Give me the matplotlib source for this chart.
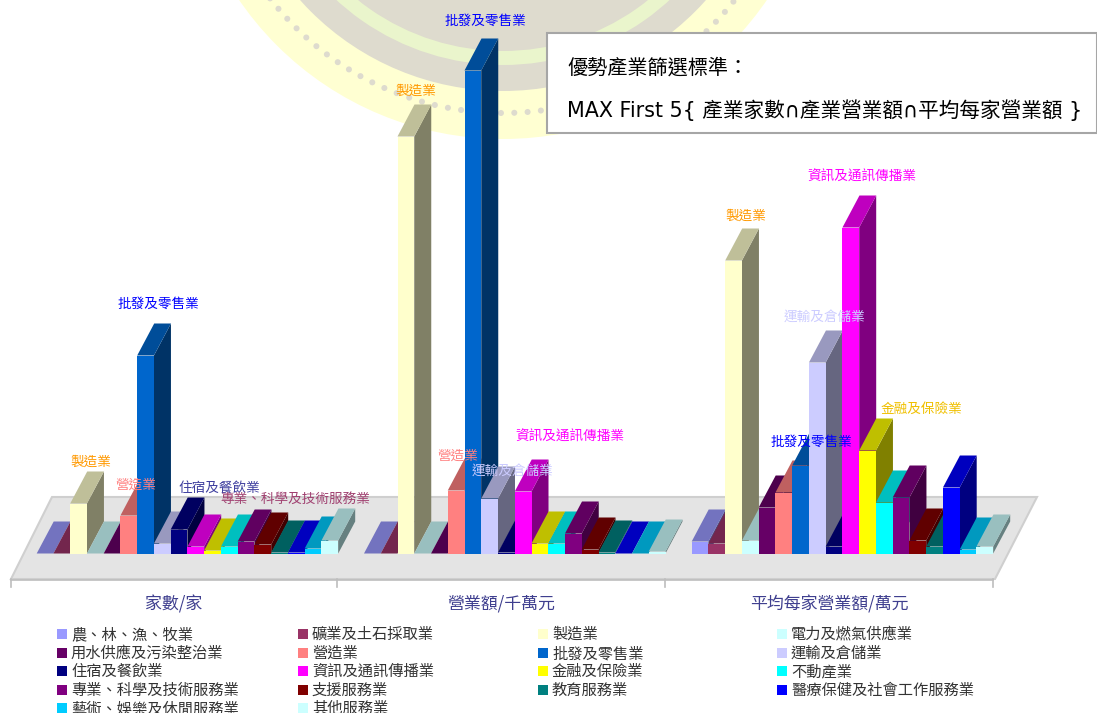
import matplotlib
matplotlib.use("Agg")
import matplotlib.pyplot as plt
import numpy as np
from matplotlib.patches import Polygon, Circle, Rectangle, Wedge
from matplotlib.colors import to_rgb

plt.rcParams['font.family'] = ['Noto Sans CJK TC', 'DejaVu Sans']

groups = ['家數/家', '營業額/千萬元', '平均每家營業額/萬元']
industries = ['農、林、漁、牧業', '礦業及土石採取業', '製造業', '電力及燃氣供應業',
              '用水供應及污染整治業', '營造業', '批發及零售業', '運輸及倉儲業',
              '住宿及餐飲業', '資訊及通訊傳播業', '金融及保險業', '不動產業',
              '專業、科學及技術服務業', '支援服務業', '教育服務業', '醫療保健及社會工作服務業',
              '藝術、娛樂及休閒服務業', '其他服務業']
colors = ['#9999FF', '#993366', '#FFFFCC', '#CCFFFF', '#660066', '#FF8080', '#0066CC', '#CCCCFF',
          '#000080', '#FF00FF', '#FFFF00', '#00FFFF', '#800080', '#800000', '#008080', '#0000FF',
          '#00CCFF', '#CCFFFF']
# values in chart units
households = [0, 0, 50, 0, 0, 38, 198, 10, 24, 7, 3, 7, 12, 9, 1, 1, 5, 13]
revenue = [0, 0, 417, 0, 0, 63, 483, 55, 1, 62, 10, 10, 20, 4, 1, 0, 0, 2]
average = [12, 10, 293, 13, 46, 61, 88, 191, 7, 326, 103, 51, 56, 13, 7, 66, 4, 7]
series = [households, revenue, average]
group_starts = [36.7, 364.0, 691.7]
group_ticks = [11, 337, 665, 993]
# (group index, industry index, label x, label y, colour)
labels = [
    (0, 2, 91, 462, '#FF9900'), (0, 5, 136, 485, '#FF8080'), (0, 6, 158, 304, '#0000FF'),
    (0, 8, 219, 489, '#3F3F9F'), (0, 12, 295, 499, '#A04070'),
    (1, 2, 416, 91, '#FF9900'), (1, 5, 458, 456, '#FF8080'), (1, 6, 485, 21, '#0000FF'),
    (1, 7, 512, 472, '#CCCCFF'), (1, 9, 570, 437, '#FF00FF'),
    (2, 2, 746, 216, '#FF9900'), (2, 6, 811, 442, '#0000FF'), (2, 7, 824, 318, '#CCCCFF'),
    (2, 9, 862, 177, '#FF00FF'), (2, 10, 921, 409, '#F0C000'),
]

W, H = 1097, 713
BASE = 553.5
BAR_W = 16.75
DX, DY = 17, 32


def shade(c, f):
    r, g, b = to_rgb(c)
    return (r * f, g * f, b * f)


fig = plt.figure(figsize=(W / 100, H / 100), dpi=100)
ax = fig.add_axes([0, 0, 1, 1])
ax.set_xlim(0, W)
ax.set_ylim(H, 0)
ax.axis('off')

# faint emblem behind the chart
cx, cy = 503, -181
ax.add_patch(Circle((cx, cy), 320, fc='#FFFFD2', ec='none', zorder=1))
ax.add_patch(Circle((cx, cy), 272, fc='#DEDBCE', ec='none', zorder=1.1))
ax.add_patch(Wedge((cx, cy), 246, 20, 160, width=14, fc='#EAF5CC', ec='none', zorder=1.2))
ax.add_patch(Circle((cx, cy), 205, fc='#DEDBCE', ec='none', zorder=1.25))
ax.add_patch(Circle((cx, cy), 178, fc='#E9F5CE', ec='none', zorder=1.3))
for ang in np.arange(28, 156, 2.6):
    a = np.radians(ang)
    ax.add_patch(Circle((cx + 294 * np.cos(a), cy + 294 * np.sin(a)), 3.0, fc='#DEDBCE', ec='none', zorder=1.4))

# floor
ax.add_patch(Polygon([(11, 579), (995, 579), (1037, 497), (52, 497)], closed=True,
                     fc='#E4E4E4', ec='#CFCFCF', lw=1.5, zorder=2))
for t in group_ticks:
    ax.plot([t, t], [579, 587], color='#BEBEBE', lw=1.2, zorder=2)
ax.plot([group_ticks[0], group_ticks[-1]], [580, 580], color='#BEBEBE', lw=1.2, zorder=2)

# bars, drawn left to right so that later bars hide earlier side faces
z = 3
for start, vals in zip(group_starts, series):
    for i, (v, c) in enumerate(zip(vals, colors)):
        x0 = start + i * BAR_W
        x1 = x0 + BAR_W
        top = BASE - v
        ax.add_patch(Polygon([(x1, BASE), (x1 + DX, BASE - DY), (x1 + DX, top - DY), (x1, top)],
                             closed=True, fc=shade(c, 0.5), ec='none', zorder=z))
        ax.add_patch(Polygon([(x0, top), (x0 + DX, top - DY), (x1 + DX, top - DY), (x1, top)],
                             closed=True, fc=shade(c, 0.75), ec='none', zorder=z))
        ax.add_patch(Rectangle((x0, top), BAR_W, v, fc=c, ec='none', zorder=z))
        z += 0.01

# data labels
for g, i, lx, ly, col in labels:
    ax.text(lx, ly, industries[i], color=col, fontsize=9.8, ha='center', va='center', zorder=10)

# category labels
for k, name in enumerate(groups):
    ax.text((group_ticks[k] + group_ticks[k + 1]) / 2, 604, name, color='#3F3F8F', fontsize=12.2,
            ha='center', va='center', zorder=10)

# legend
col_x = [57, 298, 538, 777]
row_y = [634, 653, 671, 690, 708]
for i, (name, c) in enumerate(zip(industries, colors)):
    r, q = divmod(i, 4)
    ax.add_patch(Rectangle((col_x[q], row_y[r] - 5), 10, 10, fc=c, ec='none', zorder=10))
    ax.text(col_x[q] + 14, row_y[r] + 0.5, name, color='#333333', fontsize=11, va='center', zorder=10)

# note box
ax.add_patch(Rectangle((547, 33), 550, 100, fc='white', ec='#A6A6A6', lw=1.5, zorder=11))
ax.text(567, 68, '優勢產業篩選標準：', fontsize=14.5, color='black', va='center', zorder=12)
ax.text(567, 110, 'MAX First 5{ 產業家數∩產業營業額∩平均每家營業額 }', fontsize=14.85, color='black',
        family=['DejaVu Sans', 'Noto Sans CJK TC'], va='center', zorder=12)

fig.savefig('out.png', dpi=100)
